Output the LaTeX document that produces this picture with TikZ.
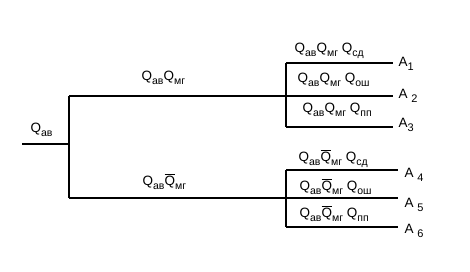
\documentclass[tikz,border=0pt]{standalone}
\usepackage{fontspec}
\setmainfont{Liberation Sans}
\newcommand{\Qsub}[1]{Q\raisebox{-4pt}{\fontsize{10.5}{10.5}\selectfont #1}}
\newcommand{\Qbar}[1]{$\overline{\mbox{Q}}$\raisebox{-4pt}{\fontsize{10.5}{10.5}\selectfont #1}}
\newcommand{\Asub}[2]{A#1\raisebox{-4pt}{\fontsize{11}{11}\selectfont #2}}
\begin{document}
\begin{tikzpicture}[x=1pt,y=-1pt,line width=1.3pt,
  lbl/.style={inner sep=0pt,anchor=base west,font=\fontsize{13.5}{13.5}\selectfont},
  alb/.style={inner sep=0pt,anchor=base west,font=\fontsize{13.5}{13.5}\selectfont}]
\useasboundingbox (0,0) rectangle (470,271);
% main stem
\coordinate (s) at (22,144);
\coordinate (r) at (69,144);
\coordinate (rt) at (69,96);
\coordinate (rb) at (69,198);
% upper group
\coordinate (ut) at (286,63);
\coordinate (um) at (286,96);
\coordinate (ub) at (286,127);
\coordinate (e1) at (393,63);
\coordinate (e2) at (393,96);
\coordinate (e3) at (393,127);
% lower group
\coordinate (lt) at (286,170);
\coordinate (lm) at (286,198);
\coordinate (lb) at (286,227);
\coordinate (e4) at (398,170);
\coordinate (e5) at (398,198);
\coordinate (e6) at (398,227);
\draw (s) -- (r);
\draw (rt) -- (rb);
\draw (rt) -- (um) -- (e2);
\draw (rb) -- (lm) -- (e5);
\draw (ut) -- (ub);
\draw (ut) -- (e1);
\draw (ub) -- (e3);
\draw (lt) -- (lb);
\draw (lt) -- (e4);
\draw (lb) -- (e6);
% labels
\node[lbl] (t0) at (30,132) {\Qsub{ав}};
\node[lbl] (t1) at (141,80) {\Qsub{ав}\Qsub{мг}};
\node[lbl] (t2) at (142,185) {\Qsub{ав}\Qbar{мг}};
\node[lbl] (u1) at (294,52) {\Qsub{ав}\Qsub{мг} \Qsub{сд}};
\node[lbl] (u2) at (297,82) {\Qsub{ав}\Qsub{мг} \Qsub{ош}};
\node[lbl] (u3) at (302,112) {\Qsub{ав}\Qsub{мг} \Qsub{пп}};
\node[lbl] (l1) at (298,161) {\Qsub{ав}\Qbar{мг} \Qsub{сд}};
\node[lbl] (l2) at (299,190) {\Qsub{ав}\Qbar{мг} \Qsub{ош}};
\node[lbl] (l3) at (299,217) {\Qsub{ав}\Qbar{мг} \Qsub{пп}};
\node[alb] (a1) at (398,66) {\Asub{}{1}};
\node[alb] (a2) at (398,98) {\Asub{ }{2}};
\node[alb] (a3) at (398,127) {\Asub{}{3}};
\node[alb] (a4) at (404,177) {\Asub{ }{4}};
\node[alb] (a5) at (404,207) {\Asub{ }{5}};
\node[alb] (a6) at (404,233) {\Asub{ }{6}};
\end{tikzpicture}
\end{document}
